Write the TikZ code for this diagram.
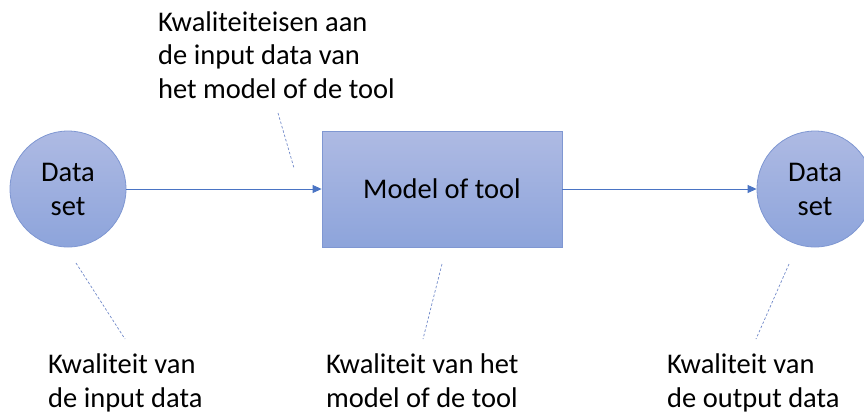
\documentclass[tikz,border=0pt]{standalone}
\usepackage{fontspec}
\setmainfont{Carlito}
\usetikzlibrary{arrows.meta}
\definecolor{shapetop}{HTML}{AEBAE3}
\definecolor{shapebot}{HTML}{8DA4DB}
\definecolor{shapeline}{HTML}{7F97D2}
\definecolor{arrowcol}{HTML}{4A74C4}
\definecolor{dashcol}{HTML}{6F88C8}
\tikzset{
  shapebox/.style={draw=shapeline, line width=0.8pt, top color=shapetop, bottom color=shapebot, font=\fontsize{28.5}{34}\selectfont, align=center, inner sep=0pt},
  datacircle/.style={shapebox, circle, minimum size=116pt},
  modelbox/.style={shapebox, rectangle, minimum width=240pt, minimum height=116pt},
  flow/.style={draw=arrowcol, line width=0.9pt, -{Triangle[length=9pt,width=8pt]}},
  note/.style={dashcol, line width=0.7pt, dash pattern=on 2.5pt off 2pt},
  label/.style={font=\fontsize{28.5}{33.5}\selectfont, align=left, inner sep=0pt, anchor=base west}
}
\begin{document}
\begin{tikzpicture}[x=1pt,y=-1pt]
\useasboundingbox (0,0) rectangle (864,416);
\clip (0,0) rectangle (864,416);
\node[datacircle] (in) at (68,189) {Data\\set};
\node[modelbox] (model) at (442,189) {Model of tool};
\node[datacircle] (out) at (815,189) {Data\\set};
\draw[flow] (in) -- (model);
\draw[flow] (model) -- (out);
\node[label] (t1) at (158,98) {Kwaliteiteisen aan\\de input data van\\het model of de tool};
\node[label] (b1) at (48,407) {Kwaliteit van\\de input data};
\node[label] (b2) at (326,407) {Kwaliteit van het\\model of de tool};
\node[label] (b3) at (667,407) {Kwaliteit van\\de output data};
\coordinate (d1a) at (278,113); \coordinate (d1b) at (294,168);
\coordinate (d2a) at (76,263); \coordinate (d2b) at (125,339);
\coordinate (d3a) at (442,264); \coordinate (d3b) at (423,339);
\coordinate (d4a) at (789,264); \coordinate (d4b) at (756,339);
\draw[note] (d1a) -- (d1b);
\draw[note] (d2a) -- (d2b);
\draw[note] (d3a) -- (d3b);
\draw[note] (d4a) -- (d4b);
\end{tikzpicture}
\end{document}
